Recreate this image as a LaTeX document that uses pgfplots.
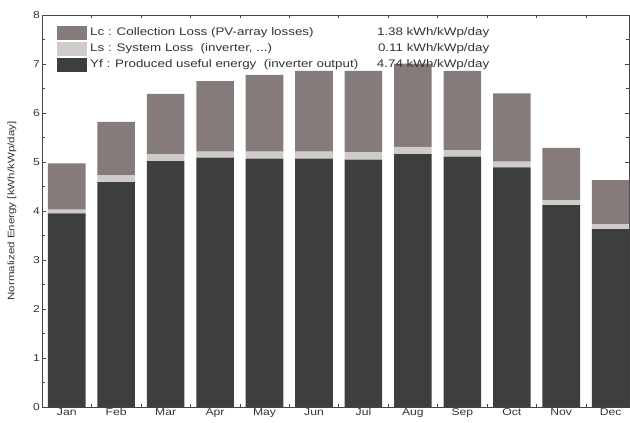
\documentclass[border=0pt]{standalone}
\usepackage{pgfplots}
\pgfplotsset{compat=1.18}
\usepackage{fontspec}
\setmainfont{Liberation Sans}[FakeStretch=1.22]
\definecolor{yfc}{HTML}{3C3F3E}
\definecolor{lsc}{HTML}{CFCBC9}
\definecolor{lcc}{HTML}{857B7A}
\definecolor{axc}{HTML}{444444}
\begin{document}
\begin{tikzpicture}
\useasboundingbox (0,0) rectangle (630bp,423bp);
\begin{axis}[
  at={(42bp,16bp)}, anchor=south west,
  scale only axis, width=587bp, height=392bp,
  ybar stacked, bar width=0.76,
  xmin=-0.5, xmax=11.37, ymin=0, ymax=8,
  axis line style={axc, line width=0.8bp},
  xtick={0,...,11},
  xticklabels={Jan,Feb,Mar,Apr,May,Jun,Jul,Aug,Sep,Oct,Nov,Dec},
  major x tick style={draw=none},
  minor xtick={0.5,1.5,...,10.5},
  ytick={0,...,8},
  minor ytick={0.5,1.5,...,7.5},
  major tick length=4bp, minor tick length=3bp,
  tick style={axc, line width=0.6bp},
  tick align=inside,
  /pgf/number format/assume math mode=true,
  ticklabel style={font=\fontsize{10}{11}\selectfont, text=black!80},
  xticklabel style={yshift=0bp, inner sep=1.5bp},
  yticklabel style={inner sep=2bp},
  ylabel={Normalized Energy [kWh/kWp/day]},
  every axis y label/.style={at={(rel axis cs:-0.0511,0.5)}, rotate=90, anchor=center,
    font=\fontsize{9.5}{10}\selectfont, text=black!80},
  legend style={draw=none, fill=none, at={(rel axis cs:0.0256,0.972)}, anchor=north west,
    font=\fontsize{11}{12}\selectfont, text=black!80,
    nodes={inner sep=0.5bp, text height=8bp, text depth=3bp},
    row sep=2bp, column sep=2.5bp, inner sep=0pt},
  legend cell align=left,
  reverse legend,
]
\addplot+[ybar, fill=yfc, draw=none,
  legend image code/.code={\fill[yfc] (0bp,-7bp) rectangle (30bp,7bp);}]
  coordinates {(0,3.95) (1,4.59) (2,5.02) (3,5.09) (4,5.07) (5,5.07) (6,5.05) (7,5.16) (8,5.11) (9,4.89) (10,4.12) (11,3.63)};
\addlegendentry{\makebox[399bp][l]{Yf : Produced useful energy\ \ (inverter output)\hfill 4.74 kWh/kWp/day}}
\addplot+[ybar, fill=lsc, draw=none,
  legend image code/.code={\fill[lsc] (0bp,-7bp) rectangle (30bp,7bp);}]
  coordinates {(0,0.08) (1,0.14) (2,0.14) (3,0.12) (4,0.14) (5,0.14) (6,0.15) (7,0.15) (8,0.13) (9,0.12) (10,0.10) (11,0.10)};
\addlegendentry{\makebox[399bp][l]{Ls : System Loss\ \ (inverter, ...)\hfill 0.11 kWh/kWp/day}}
\addplot+[ybar, fill=lcc, draw=none,
  legend image code/.code={\fill[lcc] (0bp,-7bp) rectangle (30bp,7bp);}]
  coordinates {(0,0.94) (1,1.09) (2,1.23) (3,1.44) (4,1.57) (5,1.65) (6,1.66) (7,1.70) (8,1.62) (9,1.39) (10,1.07) (11,0.90)};
\addlegendentry{\makebox[399bp][l]{Lc : Collection Loss (PV-array losses)\hfill 1.38 kWh/kWp/day}}
\end{axis}
\end{tikzpicture}
\end{document}
